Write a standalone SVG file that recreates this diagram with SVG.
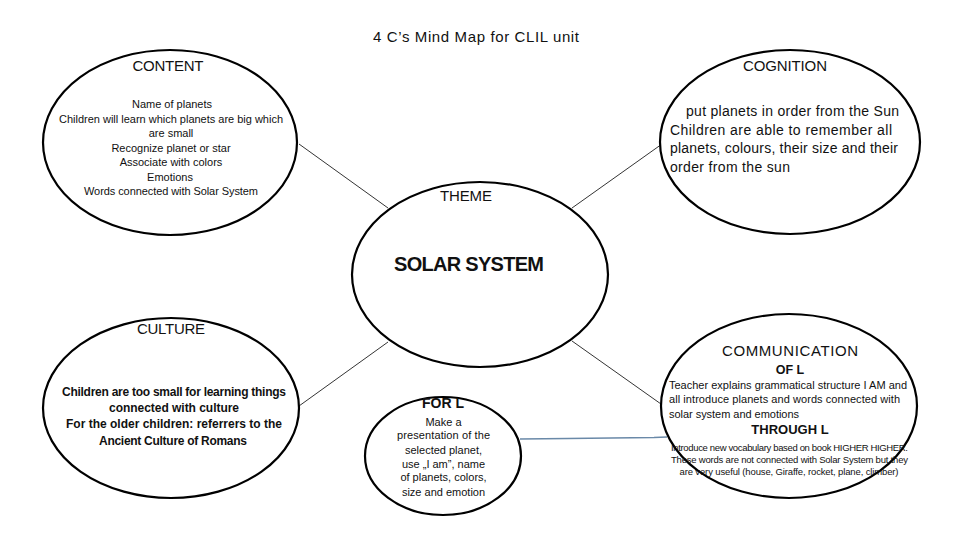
<svg xmlns="http://www.w3.org/2000/svg" width="960" height="540" viewBox="0 0 960 540">
<style>
.bg{fill:#fff}
.node{fill:#fff;stroke:#000;stroke-width:2.2}
.conn{stroke:#000;stroke-width:0.8;fill:none}
.blue{stroke:#6a89a8;stroke-width:1.3;fill:none}
text{font-family:"Liberation Sans",Arial,sans-serif;fill:#111}
.hdr{font-size:15px;text-anchor:middle}
.body{font-size:11px;text-anchor:middle}
.bodyl{font-size:11px}
.cog{font-size:14px}
.bold{font-weight:bold}
.mid{text-anchor:middle}
.small{font-size:9.5px;text-anchor:middle}
</style>
<rect class="bg" x="0" y="0" width="960" height="540"/>
<text class="hdr" x="476" y="42" textLength="206">4 C’s Mind Map for CLIL unit</text>
<g id="connectors">
<line class="conn" x1="299" y1="144" x2="388" y2="208"/>
<line class="conn" x1="662" y1="144" x2="572" y2="208"/>
<line class="conn" x1="388" y1="342" x2="299" y2="406"/>
<line class="conn" x1="572" y1="341" x2="661" y2="404"/>
<polyline class="blue" points="520,439 568,438.5 654,437.5 667,437"/>
</g>
<g id="content">
<ellipse class="node" cx="170" cy="142.5" rx="127" ry="92.5"/>
<text class="hdr" x="168" y="71" textLength="71">CONTENT</text>
<text class="body" x="172" y="108">Name of planets</text>
<text class="body" x="171" y="123" textLength="224">Children will learn which planets are big which</text>
<text class="body" x="171" y="137">are small</text>
<text class="body" x="171" y="152">Recognize planet or star</text>
<text class="body" x="171" y="166">Associate with colors</text>
<text class="body" x="170" y="181">Emotions</text>
<text class="body" x="171" y="195" textLength="174">Words connected with Solar System</text>
</g>
<g id="cognition">
<ellipse class="node" cx="790" cy="142" rx="130" ry="92"/>
<text class="hdr" x="785" y="71" textLength="84">COGNITION</text>
<text class="cog" x="686" y="116" textLength="213">put planets in order from the Sun</text>
<text class="cog" x="670" y="134.5" textLength="222">Children are able to remember all</text>
<text class="cog" x="670" y="153" textLength="228">planets, colours, their size and their</text>
<text class="cog" x="670" y="172" textLength="120">order from the sun</text>
</g>
<g id="theme">
<ellipse class="node" cx="480" cy="274.5" rx="128" ry="92.5"/>
<text class="hdr" x="466" y="201" textLength="52">THEME</text>
<text class="mid bold" x="469" y="271" font-size="20" textLength="150">SOLAR SYSTEM</text>
</g>
<g id="culture">
<ellipse class="node" cx="171" cy="408" rx="128" ry="90"/>
<text class="hdr" x="171" y="334" textLength="68">CULTURE</text>
<text class="mid bold" font-size="12" x="174" y="396" textLength="224">Children are too small for learning things</text>
<text class="mid bold" font-size="12" x="174" y="412" textLength="130">connected with culture</text>
<text class="mid bold" font-size="12" x="174" y="428" textLength="216">For the older children: referrers to the</text>
<text class="mid bold" font-size="12" x="173" y="445" textLength="148">Ancient Culture of Romans</text>
</g>
<g id="for-l">
<ellipse class="node" cx="443" cy="456" rx="78" ry="59"/>
<text class="mid bold" font-size="14" x="443" y="408" textLength="42">FOR L</text>
<text class="body" x="443.5" y="426">Make a</text>
<text class="body" x="443.5" y="439" textLength="93">presentation of the</text>
<text class="body" x="443.5" y="454">selected planet,</text>
<text class="body" x="443.5" y="468">use „I am”, name</text>
<text class="body" x="443.5" y="481">of planets, colors,</text>
<text class="body" x="443.5" y="496">size and emotion</text>
</g>
<g id="communication">
<ellipse class="node" cx="789" cy="406" rx="128" ry="92"/>
<text class="hdr" x="790" y="356" textLength="136">COMMUNICATION</text>
<text class="mid bold" font-size="12.5" x="790" y="374">OF L</text>
<text class="bodyl" x="669" y="389" textLength="238">Teacher explains grammatical structure I AM and</text>
<text class="bodyl" x="669" y="403" textLength="231">all introduce planets and words connected with</text>
<text class="bodyl" x="669" y="418" textLength="130">solar system and emotions</text>
<text class="mid bold" font-size="13" x="790" y="434">THROUGH L</text>
<text class="small" x="789.5" y="450.5" textLength="237">Introduce new vocabulary based on book HIGHER HIGHER.</text>
<text class="small" x="789.5" y="462.5" textLength="237">These words are not connected with Solar System but they</text>
<text class="small" x="789" y="474.5" textLength="219">are very useful (house, Giraffe, rocket, plane, climber)</text>
</g>
</svg>
